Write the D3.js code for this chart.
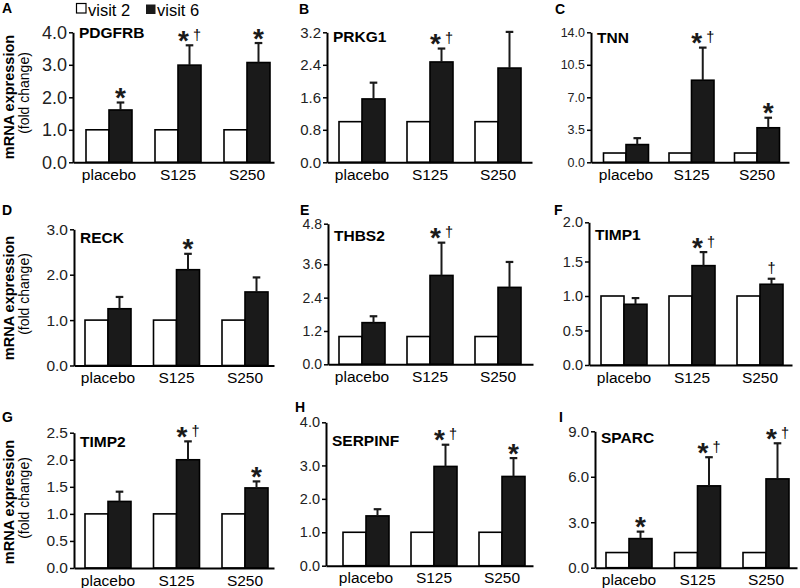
<!DOCTYPE html>
<html><head><meta charset="utf-8">
<script src="https://cdn.jsdelivr.net/npm/d3@7"></script>
<style>body{margin:0;background:#fff}svg{display:block}text{font-family:"Liberation Sans",Arial,sans-serif}</style>
</head><body><svg id="c" width="800" height="588"></svg>
<script>
// ---------- data ----------
const categories = ["placebo", "S125", "S250"];
const series = ["visit 2", "visit 6"];
const genes = ["PDGFRB", "PRKG1", "TNN", "RECK", "THBS2", "TIMP1", "TIMP2", "SERPINF", "SPARC"];
const panelLetters = ["A", "B", "C", "D", "E", "F", "G", "H", "I"];
const yMax = [4.0, 3.2, 14.0, 3.0, 4.8, 2.0, 2.5, 4.0, 9.0];
const yStep = [1.0, 0.8, 3.5, 1.0, 1.2, 0.5, 0.5, 1.0, 3.0];
const visit2 = [1.0, 1.0, 1.0];
const visit6 = [
  [1.61, 2.99, 3.07],
  [1.56, 2.47, 2.32],
  [1.91, 8.84, 3.72],
  [1.25, 2.11, 1.62],
  [1.50, 3.20, 2.77],
  [0.88, 1.44, 1.17],
  [1.23, 2.00, 1.48],
  [1.49, 2.97, 2.67],
  [1.92, 5.40, 5.86]
];
const visit6Sem = [
  [0.23, 0.61, 0.60],
  [0.40, 0.33, 0.89],
  [0.69, 3.51, 1.08],
  [0.26, 0.35, 0.32],
  [0.23, 1.04, 0.90],
  [0.09, 0.18, 0.08],
  [0.18, 0.34, 0.12],
  [0.20, 0.51, 0.50],
  [0.46, 1.89, 2.35]
];
const significance = [
  ["*", "*†", "*"],
  ["", "*†", ""],
  ["", "*†", "*"],
  ["", "*", ""],
  ["", "*†", ""],
  ["", "*†", "†"],
  ["", "*†", "*"],
  ["", "*†", "*"],
  ["*", "*†", "*†"]
];
const yTitle = ["mRNA expression", "(fold change)"];

// ---------- layout (pixels) ----------
// top = where a linear axis would reach yMax; topTick = where the top tick is drawn
const layout = [
  {x0:73,  top:32.3,  topTick:32.3,  bottom:162.3, end:274, c0:109, s:69,   bw:23,   tf:18,   lx:2,   ly:13,    gy:38},
  {x0:327, top:32.3,  topTick:32.3,  bottom:162.3, end:532, c0:362, s:68,   bw:23,   tf:15,   lx:299, ly:14,    gy:41.5},
  {x0:591, top:32.3,  topTick:32.3,  bottom:162.3, end:789, c0:626, s:65.5, bw:22.5, tf:12.5, lx:555, ly:13.5,  gy:43},
  {x0:74,  top:229.3, topTick:229.3, bottom:365.5, end:274, c0:108, s:68.5, bw:23,   tf:15.5, lx:2,   ly:215,   gy:243},
  {x0:328, top:231,   topTick:223.7, bottom:364.3, end:533, c0:362, s:68,   bw:23,   tf:14,   lx:300, ly:214.5, gy:241},
  {x0:589, top:227,   topTick:222.3, bottom:365,   end:792, c0:624, s:68,   bw:23,   tf:14.5, lx:554, ly:215,   gy:240},
  {x0:74,  top:432.7, topTick:432.7, bottom:568,   end:274, c0:108, s:68.5, bw:23,   tf:15.5, lx:2,   ly:421.5, gy:446.5},
  {x0:326, top:432,   topTick:422.3, bottom:565.7, end:533, c0:366, s:68,   bw:23,   tf:14.5, lx:295, ly:412,   gy:446},
  {x0:595, top:431.3, topTick:431.3, bottom:567.7, end:797, c0:629, s:68.5, bw:23,   tf:15,   lx:559, ly:421.5, gy:443}
];

const svg = d3.select("#c");
const ink = "#1a1a1a";

// legend
const leg = svg.append("g");
leg.append("rect").attr("x",76.5).attr("y",3.5).attr("width",9.5).attr("height",9.5)
  .attr("fill","#fff").attr("stroke","#000").attr("stroke-width",1.2);
leg.append("text").attr("x",88).attr("y",15.5).attr("font-size",16.5).text(series[0]);
leg.append("rect").attr("x",146).attr("y",4.5).attr("width",9.5).attr("height",9.5)
  .attr("fill",ink);
leg.append("text").attr("x",157).attr("y",15.5).attr("font-size",16.5).text(series[1]);

// y titles per row
[97, 298, 502].forEach(cy => {
  svg.append("text").attr("transform",`translate(14,${cy}) rotate(-90)`)
    .attr("text-anchor","middle").attr("font-size",14.5).attr("font-weight","bold").text(yTitle[0]);
  svg.append("text").attr("transform",`translate(28.5,${cy - 4}) rotate(-90)`)
    .attr("text-anchor","middle").attr("font-size",14).text(yTitle[1]);
});

genes.forEach((gene, i) => {
  const L = layout[i];
  const g = svg.append("g");
  const ppu = (L.bottom - L.top) / yMax[i];
  const below = yMax[i] - yStep[i];
  const y = d3.scaleLinear()
    .domain([0, below, yMax[i]])
    .range([L.bottom, L.bottom - below * ppu, L.topTick]);
  const x = d3.scaleBand().domain(categories).range([L.c0 - L.s/2, L.c0 + 2.5*L.s]);
  const sub = d3.scaleBand().domain(series).range([L.s/2 - L.bw, L.s/2 + L.bw]);

  // panel letter
  svg.append("text").attr("x", L.lx).attr("y", L.ly).attr("font-size",14)
    .attr("font-weight","bold").text(panelLetters[i]);

  // bars
  categories.forEach((c, k) => {
    g.append("rect").attr("x", x(c) + sub(series[0])).attr("y", y(visit2[k]))
      .attr("width", sub.bandwidth()).attr("height", y(0) - y(visit2[k]))
      .attr("fill","#fff").attr("stroke","#000").attr("stroke-width",1.6);
    g.append("rect").attr("x", x(c) + sub(series[1])).attr("y", y(visit6[i][k]))
      .attr("width", sub.bandwidth()).attr("height", y(0) - y(visit6[i][k]))
      .attr("fill",ink).attr("stroke","#000").attr("stroke-width",1.6);
    const cx = x(c) + sub(series[1]) + sub.bandwidth()/2;
    const yt = y(visit6[i][k] + visit6Sem[i][k]);
    g.append("line").attr("x1",cx).attr("x2",cx).attr("y1",y(visit6[i][k])).attr("y2",yt)
      .attr("stroke",ink).attr("stroke-width",2);
    g.append("line").attr("x1",cx-3.8).attr("x2",cx+3.8).attr("y1",yt).attr("y2",yt)
      .attr("stroke",ink).attr("stroke-width",2.2);
    const sig = significance[i][k];
    if (sig.includes("*")) {
      const sx = sig.length > 1 ? cx - 6 : cx;
      g.append("text").attr("x", sx).attr("y", yt + 4.5).attr("text-anchor","middle")
        .attr("font-size",28).attr("font-weight","bold").attr("fill",ink).text("*");
    }
    if (sig.includes("†")) {
      const dx = sig.length > 1 ? cx + 7.5 : cx;
      g.append("text").attr("x", dx).attr("y", yt - 5.5).attr("text-anchor","middle")
        .attr("font-size",14.5).attr("fill","#000").text("†");
    }
    // category label
    g.append("text").attr("x", x(c) + L.s/2).attr("y", L.bottom + 17.5)
      .attr("text-anchor","middle").attr("font-size",15.5).text(c);
  });

  // y axis
  const ticks = d3.range(0, yMax[i] + yStep[i]/2, yStep[i]);
  const ax = g.append("g").attr("transform",`translate(${L.x0},0)`)
    .call(d3.axisLeft(y).tickValues(ticks).tickFormat(d3.format(".1f")).tickSize(4).tickSizeOuter(0).tickPadding(2));
  ax.select(".domain").attr("stroke-width",2);
  ax.selectAll(".tick line").attr("stroke-width",1.5);
  ax.selectAll(".tick text").attr("font-size",L.tf).attr("font-family",'"Liberation Sans",Arial,sans-serif').attr("fill","#222");
  // x axis line
  const xa = g.append("g").attr("transform",`translate(0,${L.bottom})`)
    .call(d3.axisBottom(d3.scaleLinear().range([L.x0, L.end])).ticks(0).tickSizeOuter(0));
  xa.select(".domain").attr("stroke-width",2);

  // gene label
  g.append("text").attr("x", L.x0 + 6).attr("y", L.gy).attr("font-size",15.5)
    .attr("font-weight","bold").text(gene);
});
</script></body></html>
